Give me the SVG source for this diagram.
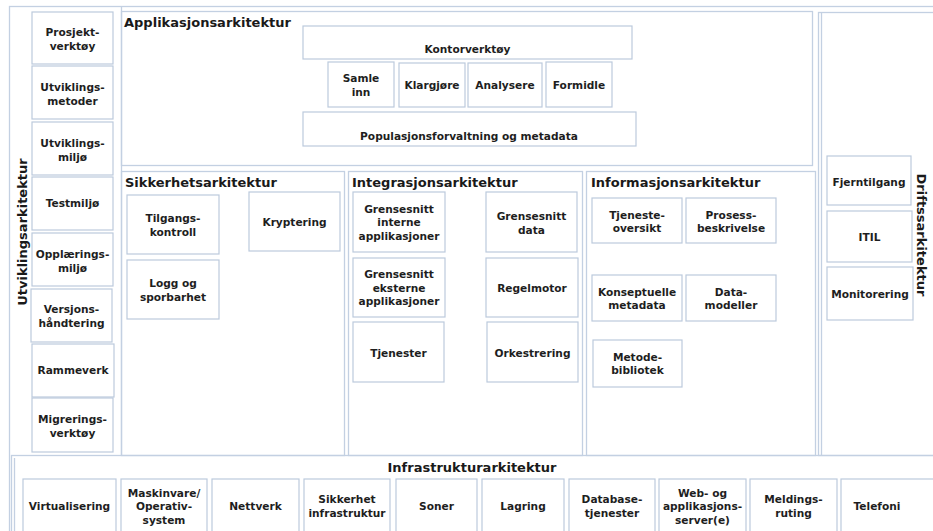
<svg xmlns="http://www.w3.org/2000/svg" width="933" height="531" viewBox="0 0 933 531">
<style>
.c{fill:none;stroke:#c3d0e2;stroke-width:1.3}
.b{fill:#fff;stroke:#bccadd;stroke-width:1.2}
.t{font-family:"DejaVu Sans",Verdana,sans-serif;font-weight:bold;font-size:10.6px;fill:#1e1e1e;text-anchor:middle}
.h{font-family:"DejaVu Sans",Verdana,sans-serif;font-weight:bold;font-size:13px;fill:#1a1a1a}
</style>
<rect width="933" height="531" fill="#fff"/>
<g id="frame">
<rect class="c" x="9.5" y="6.5" width="935" height="540"/>
<line class="c" x1="121.5" y1="6.5" x2="121.5" y2="455.5"/>
</g>
<g id="utviklingsarkitektur">
<text class="h" transform="translate(26.5,232) rotate(-90)" text-anchor="middle">Utviklingsarkitektur</text>
<g id="prosjektverktoy"><rect class="b" x="32" y="12" width="81" height="52"/><text class="t" x="72.5" y="36"><tspan x="72.5">Prosjekt-</tspan><tspan x="72.5" dy="13.5">verktøy</tspan></text></g>
<g id="utviklingsmetoder"><rect class="b" x="32" y="66" width="81" height="53"/><text class="t" x="72.5" y="91"><tspan x="72.5">Utviklings-</tspan><tspan x="72.5" dy="13.5">metoder</tspan></text></g>
<g id="utviklingsmiljo"><rect class="b" x="32" y="122" width="81" height="53"/><text class="t" x="72.5" y="147"><tspan x="72.5">Utviklings-</tspan><tspan x="72.5" dy="13.5">miljø</tspan></text></g>
<g id="testmiljo"><rect class="b" x="32" y="177" width="81" height="53"/><text class="t" x="72.5" y="207">Testmiljø</text></g>
<g id="opplaeringsmiljo"><rect class="b" x="32" y="233" width="81" height="53"/><text class="t" x="72.5" y="258"><tspan x="72.5">Opplærings-</tspan><tspan x="72.5" dy="13.5">miljø</tspan></text></g>
<g id="versjonshandtering"><rect class="b" x="31" y="289" width="81" height="53"/><text class="t" x="71.5" y="313"><tspan x="71.5">Versjons-</tspan><tspan x="71.5" dy="13.5">håndtering</tspan></text></g>
<g id="rammeverk"><rect class="b" x="32" y="344" width="82" height="53"/><text class="t" x="73" y="374">Rammeverk</text></g>
<g id="migreringsverktoy"><rect class="b" x="32" y="398" width="81" height="54"/><text class="t" x="72.5" y="423"><tspan x="72.5">Migrerings-</tspan><tspan x="72.5" dy="13.5">verktøy</tspan></text></g>
</g>
<g id="applikasjonsarkitektur">
<rect class="c" x="121.5" y="11.5" width="691" height="154"/>
<text class="h" x="124" y="27">Applikasjonsarkitektur</text>
<g id="kontorverktoy"><rect class="b" x="303" y="26" width="329" height="33"/><text class="t" x="467.5" y="53">Kontorverktøy</text></g>
<g id="samleinn"><rect class="b" x="328" y="62" width="66" height="45"/><text class="t" x="361" y="82"><tspan x="361">Samle</tspan><tspan x="361" dy="13.5">inn</tspan></text></g>
<g id="klargjore"><rect class="b" x="399" y="63" width="66" height="44"/><text class="t" x="432" y="89">Klargjøre</text></g>
<g id="analysere"><rect class="b" x="468" y="63" width="74" height="44"/><text class="t" x="505" y="89">Analysere</text></g>
<g id="formidle"><rect class="b" x="546" y="62" width="66" height="45"/><text class="t" x="579" y="89">Formidle</text></g>
<g id="populasjonsforvaltning"><rect class="b" x="303" y="112" width="333" height="34"/><text class="t" x="469" y="140">Populasjonsforvaltning og metadata</text></g>
</g>
<g id="sikkerhetsarkitektur">
<rect class="c" x="121.5" y="171.5" width="223" height="284"/>
<text class="h" x="125" y="187">Sikkerhetsarkitektur</text>
<g id="tilgangskontroll"><rect class="b" x="127" y="195" width="92" height="59"/><text class="t" x="173" y="222"><tspan x="173">Tilgangs-</tspan><tspan x="173" dy="13.5">kontroll</tspan></text></g>
<g id="kryptering"><rect class="b" x="249" y="192" width="91" height="59"/><text class="t" x="294.5" y="226">Kryptering</text></g>
<g id="logg"><rect class="b" x="127" y="260" width="92" height="59"/><text class="t" x="173" y="287"><tspan x="173">Logg og</tspan><tspan x="173" dy="13.5">sporbarhet</tspan></text></g>
</g>
<g id="integrasjonsarkitektur">
<rect class="c" x="348.5" y="171.5" width="234" height="284"/>
<text class="h" x="352" y="187">Integrasjonsarkitektur</text>
<g id="grensesnittinterne"><rect class="b" x="353" y="192" width="92" height="60"/><text class="t" x="399" y="212.5"><tspan x="399">Grensesnitt</tspan><tspan x="399" dy="13.5">interne</tspan><tspan x="399" dy="13.5">applikasjoner</tspan></text></g>
<g id="grensesnittdata"><rect class="b" x="486" y="192" width="91" height="60"/><text class="t" x="531.5" y="220"><tspan x="531.5">Grensesnitt</tspan><tspan x="531.5" dy="13.5">data</tspan></text></g>
<g id="grensesnitteksterne"><rect class="b" x="353" y="258" width="92" height="59"/><text class="t" x="399" y="278"><tspan x="399">Grensesnitt</tspan><tspan x="399" dy="13.5">eksterne</tspan><tspan x="399" dy="13.5">applikasjoner</tspan></text></g>
<g id="regelmotor"><rect class="b" x="486" y="258" width="92" height="59"/><text class="t" x="532" y="292">Regelmotor</text></g>
<g id="tjenester"><rect class="b" x="353" y="322" width="91" height="60"/><text class="t" x="398.5" y="356.5">Tjenester</text></g>
<g id="orkestrering"><rect class="b" x="487" y="322" width="91" height="60"/><text class="t" x="532.5" y="356.5">Orkestrering</text></g>
</g>
<g id="informasjonsarkitektur">
<rect class="c" x="586.5" y="171.5" width="229" height="284"/>
<text class="h" x="591" y="187">Informasjonsarkitektur</text>
<g id="tjenesteoversikt"><rect class="b" x="592" y="198" width="90" height="45"/><text class="t" x="637" y="218.5"><tspan x="637">Tjeneste-</tspan><tspan x="637" dy="13.5">oversikt</tspan></text></g>
<g id="prosessbeskrivelse"><rect class="b" x="686" y="198" width="90" height="45"/><text class="t" x="731" y="218.5"><tspan x="731">Prosess-</tspan><tspan x="731" dy="13.5">beskrivelse</tspan></text></g>
<g id="konseptuelle"><rect class="b" x="592" y="275" width="90" height="46"/><text class="t" x="637" y="295.5"><tspan x="637">Konseptuelle</tspan><tspan x="637" dy="13.5">metadata</tspan></text></g>
<g id="datamodeller"><rect class="b" x="686" y="275" width="90" height="46"/><text class="t" x="731" y="295.5"><tspan x="731">Data-</tspan><tspan x="731" dy="13.5">modeller</tspan></text></g>
<g id="metodebibliotek"><rect class="b" x="593" y="340" width="89" height="47"/><text class="t" x="637.5" y="360.5"><tspan x="637.5">Metode-</tspan><tspan x="637.5" dy="13.5">bibliotek</tspan></text></g>
</g>
<g id="driftsarkitektur">
<rect class="c" x="818.5" y="12.5" width="130" height="443"/>
<line class="c" x1="821.5" y1="13" x2="821.5" y2="455.5"/>
<text class="h" transform="translate(917,235) rotate(90)" text-anchor="middle">Driftssarkitektur</text>
<g id="fjerntilgang"><rect class="b" x="827" y="156" width="84" height="49"/><text class="t" x="869" y="186">Fjerntilgang</text></g>
<g id="itil"><rect class="b" x="827" y="211" width="85" height="51"/><text class="t" x="869.5" y="241">ITIL</text></g>
<g id="monitorering"><rect class="b" x="827" y="267" width="86" height="53"/><text class="t" x="870" y="298">Monitorering</text></g>
</g>
<g id="infrastrukturarkitektur">
<rect class="c" x="11.5" y="455.5" width="930" height="90" fill="#fff"/>
<line class="c" x1="14.5" y1="458" x2="14.5" y2="531"/>
<text class="h" x="472" y="472" text-anchor="middle">Infrastrukturarkitektur</text>
<g id="virtualisering"><rect class="b" x="23" y="479" width="93" height="60"/><text class="t" x="69.5" y="510">Virtualisering</text></g>
<g id="maskinvare"><rect class="b" x="121" y="479" width="86" height="60"/><text class="t" x="164" y="496.5"><tspan x="164">Maskinvare/</tspan><tspan x="164" dy="13.5">Operativ-</tspan><tspan x="164" dy="13.5">system</tspan></text></g>
<g id="nettverk"><rect class="b" x="212" y="479" width="87" height="60"/><text class="t" x="255.5" y="510">Nettverk</text></g>
<g id="sikkerhetinfra"><rect class="b" x="304" y="479" width="86" height="60"/><text class="t" x="347" y="503"><tspan x="347">Sikkerhet</tspan><tspan x="347" dy="13.5">infrastruktur</tspan></text></g>
<g id="soner"><rect class="b" x="396" y="479" width="81" height="60"/><text class="t" x="436.5" y="510">Soner</text></g>
<g id="lagring"><rect class="b" x="482" y="479" width="82" height="60"/><text class="t" x="523" y="510">Lagring</text></g>
<g id="databasetjenester"><rect class="b" x="569" y="479" width="86" height="60"/><text class="t" x="612" y="503"><tspan x="612">Database-</tspan><tspan x="612" dy="13.5">tjenester</tspan></text></g>
<g id="webserver"><rect class="b" x="659" y="479" width="87" height="60"/><text class="t" x="702.5" y="496.5"><tspan x="702.5">Web- og</tspan><tspan x="702.5" dy="13.5">applikasjons-</tspan><tspan x="702.5" dy="13.5">server(e)</tspan></text></g>
<g id="meldingsruting"><rect class="b" x="750" y="479" width="87" height="60"/><text class="t" x="793.5" y="503"><tspan x="793.5">Meldings-</tspan><tspan x="793.5" dy="13.5">ruting</tspan></text></g>
<g id="telefoni"><rect class="b" x="841" y="479" width="100" height="60"/><text class="t" x="877" y="510">Telefoni</text></g>
</g>
<g id="connectors"/>
</svg>
